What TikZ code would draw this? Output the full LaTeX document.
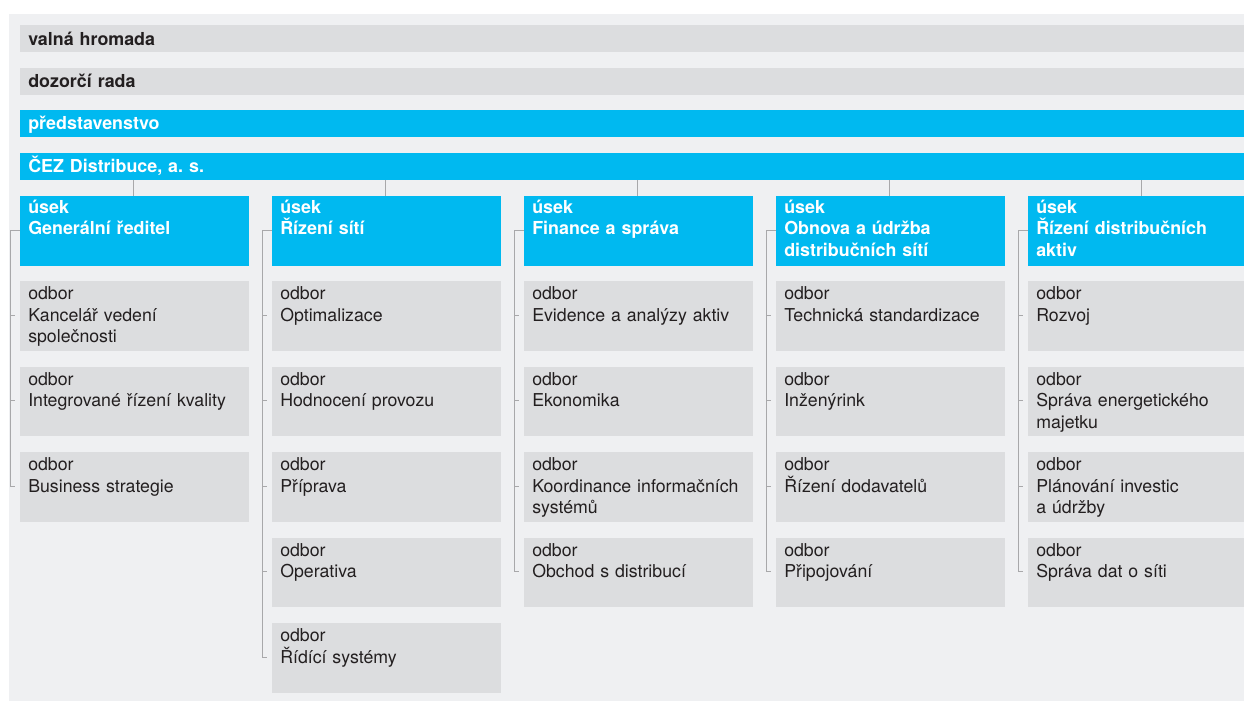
\documentclass[tikz,border=0pt]{standalone}
\usepackage{fontspec}
\setmainfont{TeX Gyre Heros}
\frenchspacing
\definecolor{cezblue}{RGB}{0,185,240}
\definecolor{boxgray}{RGB}{220,221,223}
\definecolor{panelgray}{RGB}{239,240,242}
\definecolor{linegray}{RGB}{168,168,170}
\definecolor{txtdark}{RGB}{35,31,32}
\newcommand\mkusek[3]{%
  \node[usekbox] (#1) at (#2,196) {};
  \node[boldtxt, text=white] (#1t) at (#2+8,213.3) {úsek\\#3};
}
\newcommand\mkodbor[4]{%
  \node[odborbox] (#1) at (#2,#3) {};
  \node[regtxt] (#1t) at (#2+8,#3+18.7) {odbor\\#4};
}
\begin{document}
\begin{tikzpicture}[x=0.75pt,y=-0.75pt,
  bar/.style={inner sep=0pt, outer sep=0pt, anchor=north west, minimum width=1224*0.75pt, minimum height=27*0.75pt},
  graybar/.style={bar, fill=boxgray},
  bluebar/.style={bar, fill=cezblue},
  usekbox/.style={inner sep=0pt, outer sep=0pt, anchor=north west, fill=cezblue, minimum width=229*0.75pt, minimum height=69.5*0.75pt},
  odborbox/.style={inner sep=0pt, outer sep=0pt, anchor=north west, fill=boxgray, minimum width=229*0.75pt, minimum height=69.5*0.75pt},
  boldtxt/.style={anchor=base west, inner sep=0pt, align=left, text width=215*0.75pt, font=\fontsize{13.4}{16.2}\selectfont\bfseries},
  regtxt/.style={anchor=base west, inner sep=0pt, align=left, text width=215*0.75pt, text=txtdark, font=\fontsize{13.3}{16.2}\selectfont},
  conn/.style={draw=linegray, line width=0.75pt}
]
\path[use as bounding box, clip] (0,0) rectangle (1244,700);
\fill[panelgray] (9,14) rectangle (1260,710);

% top bars
\node[graybar] (vh) at (20,25) {};
\node[boldtxt, text=txtdark] (vht) at (28,45.3) {valná hromada};
\node[graybar] (dr) at (20,68) {};
\node[boldtxt, text=txtdark] (drt) at (28,87.5) {dozorčí rada};
\node[bluebar] (ps) at (20,110) {};
\node[boldtxt, text=white] (pst) at (28,129.7) {představenstvo};
\node[bluebar] (cez) at (20,153) {};
\node[boldtxt, text=white] (cezt) at (28,172.7) {ČEZ Distribuce, a.\ s.};

% columns
\mkusek{u1}{20}{Generální ředitel}
\mkusek{u2}{272}{Řízení sítí}
\mkusek{u3}{524}{Finance a správa}
\mkusek{u4}{776}{Obnova a údržba\\distribučních sítí}
\mkusek{u5}{1028}{Řízení distribučních\\aktiv}

\mkodbor{o11}{20}{281}{Kancelář vedení\\společnosti}
\mkodbor{o12}{20}{366.5}{Integrované řízení kvality}
\mkodbor{o13}{20}{452}{Business strategie}

\mkodbor{o21}{272}{281}{Optimalizace}
\mkodbor{o22}{272}{366.5}{Hodnocení provozu}
\mkodbor{o23}{272}{452}{Příprava}
\mkodbor{o24}{272}{537.5}{Operativa}
\mkodbor{o25}{272}{623}{Řídící systémy}

\mkodbor{o31}{524}{281}{Evidence a analýzy aktiv}
\mkodbor{o32}{524}{366.5}{Ekonomika}
\mkodbor{o33}{524}{452}{Koordinance informačních\\systémů}
\mkodbor{o34}{524}{537.5}{Obchod s distribucí}

\mkodbor{o41}{776}{281}{Technická standardizace}
\mkodbor{o42}{776}{366.5}{Inženýrink}
\mkodbor{o43}{776}{452}{Řízení dodavatelů}
\mkodbor{o44}{776}{537.5}{Připojování}

\mkodbor{o51}{1028}{281}{Rozvoj}
\mkodbor{o52}{1028}{366.5}{Správa energetického\\majetku}
\mkodbor{o53}{1028}{452}{Plánování investic\\a údržby}
\mkodbor{o54}{1028}{537.5}{Správa dat o síti}

% connectors from company bar to divisions
\foreach \u in {u1,u2,u3,u4,u5}{
  \draw[conn] ([xshift=-1.5*0.75pt]\u.north |- cez.south) -- ([xshift=-1.5*0.75pt]\u.north);
}

% brackets
\draw[conn] ([shift={(0,34)}]u1.north west) -- ++(-10,0) |- ([shift={(-5,34)}]o13.north west);
\draw[conn] ([shift={(0,34)}]u2.north west) -- ++(-10,0) |- ([shift={(-5,34)}]o25.north west);
\draw[conn] ([shift={(0,34)}]u3.north west) -- ++(-10,0) |- ([shift={(-5,34)}]o34.north west);
\draw[conn] ([shift={(0,34)}]u4.north west) -- ++(-10,0) |- ([shift={(-5,34)}]o44.north west);
\draw[conn] ([shift={(0,34)}]u5.north west) -- ++(-10,0) |- ([shift={(-5,34)}]o54.north west);

\foreach \o in {o11,o12,o21,o22,o23,o24,o31,o32,o33,o41,o42,o43,o51,o52,o53}{
  \draw[conn] ([shift={(-10,34)}]\o.north west) -- ++(5,0);
}
\end{tikzpicture}
\end{document}
